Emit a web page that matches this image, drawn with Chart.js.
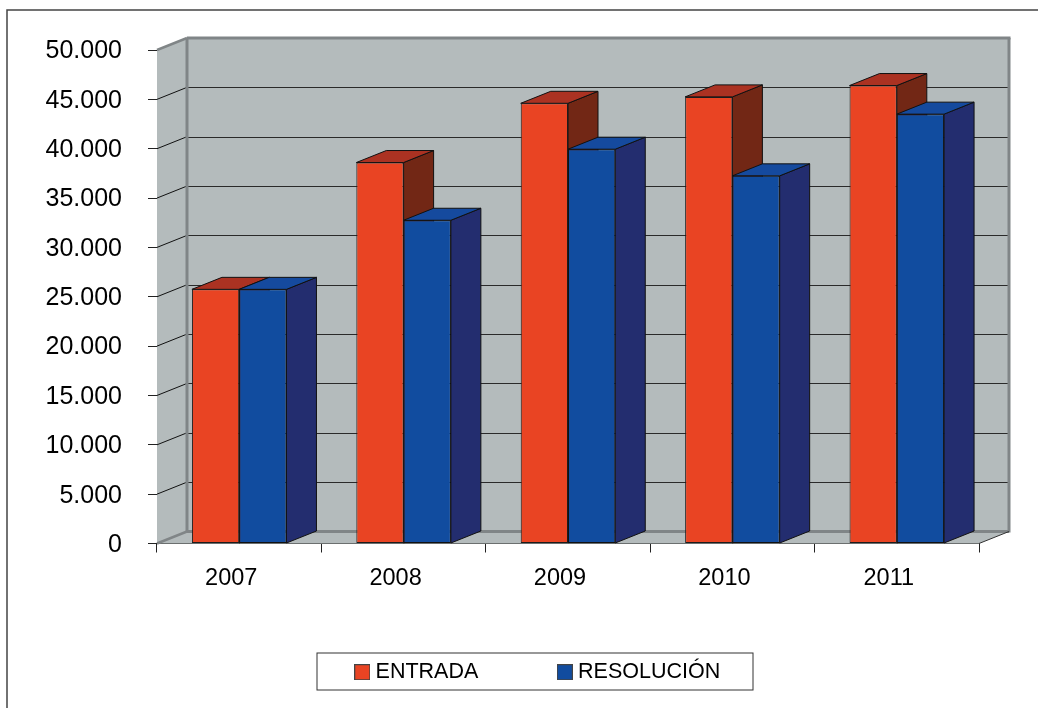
<!DOCTYPE html>
<html>
<head>
<meta charset="utf-8">
<style>
html,body{margin:0;padding:0;background:#fff;overflow:hidden}
#wrap{position:absolute;left:0;top:0;width:1038px;height:708px}
</style>
<script src="https://cdn.jsdelivr.net/npm/chart.js@4"></script>
</head>
<body>
<div id="wrap"><canvas id="c" width="1038" height="708"></canvas></div>
<script>
const categories = ['2007','2008','2009','2010','2011'];
const entrada = [25750, 38600, 44600, 45250, 46400];
const resolucion = [25750, 32750, 39950, 37250, 43500];
const seriesNames = ['ENTRADA','RESOLUCIÓN'];
const frontColors = ['#e94423','#114c9f'];
const topColors = ['#ab3222','#154a9e'];
const sideColors = ['#722715','#232d6f'];

const DX = 30, DY = -12;
const WALL = '#b4bbbc', EDGE = '#808587', LINE = '#2a2a2a';
const LEGEND_GAP = 84, LEGEND_FONT = 21.5;

function swatch(color){
  const s = document.createElement('canvas');
  s.width = 16; s.height = 16;
  const g = s.getContext('2d');
  g.fillStyle = color; g.fillRect(0.5,0.5,15,15);
  g.strokeStyle = '#444'; g.lineWidth = 1; g.strokeRect(0.5,0.5,15,15);
  return s;
}
function poly(ctx, pts, fill, stroke, lw){
  ctx.beginPath();
  pts.forEach((p,i)=> i ? ctx.lineTo(p[0],p[1]) : ctx.moveTo(p[0],p[1]));
  ctx.closePath();
  if (fill){ ctx.fillStyle = fill; ctx.fill(); }
  if (stroke){ ctx.strokeStyle = stroke; ctx.lineWidth = lw||1; ctx.stroke(); }
}
function seg(ctx, x1,y1,x2,y2, color, lw){
  ctx.beginPath(); ctx.moveTo(x1,y1); ctx.lineTo(x2,y2);
  ctx.strokeStyle = color; ctx.lineWidth = lw||1; ctx.stroke();
}

const scene3d = {
  id:'scene3d',
  afterLayout(chart){
    const l = chart.legend;
    const h = l.bottom - l.top;
    l.left = 359.8 - LEGEND_GAP;
    l.right = l.left + 1000;
    l.top = 661.5 - LEGEND_GAP;
    l.bottom = l.top + h;
  },
  beforeDraw(chart){
    const ctx = chart.ctx;
    ctx.save();
    ctx.strokeStyle = '#444'; ctx.lineWidth = 1.5;
    ctx.strokeRect(7,10,1200,1000);
    ctx.fillStyle = '#fff'; ctx.strokeStyle = '#333'; ctx.lineWidth = 1;
    ctx.fillRect(317,653,436,37);
    ctx.strokeRect(317,653,436,37);
    ctx.restore();
  },
  beforeDatasetsDraw(chart){
    const ctx = chart.ctx, a = chart.chartArea, y = chart.scales.y;
    const L=a.left,R=a.right,T=a.top,B=a.bottom;
    ctx.save();
    poly(ctx,[[L+DX,T+DY],[R+DX,T+DY],[R+DX,B+DY],[L+DX,B+DY]],WALL);
    poly(ctx,[[L,T],[L+DX,T+DY],[L+DX,B+DY],[L,B]],WALL);
    poly(ctx,[[L,B],[L+DX,B+DY],[R+DX,B+DY],[R,B]],WALL);
    y.ticks.forEach(t=>{
      const p = y.getPixelForValue(t.value);
      if (t.value>0 && t.value<y.max){
        seg(ctx,L,p,L+DX,p+DY,'#111',1);
        seg(ctx,L+DX,Math.round(p+DY)+0.5,R+DX,Math.round(p+DY)+0.5,LINE,1.2);
      }
    });
    seg(ctx,L+DX,T+DY,R+DX+1.5,T+DY,EDGE,3);
    seg(ctx,L+DX,T+DY,L+DX,B+DY,EDGE,3);
    seg(ctx,R+DX,T+DY,R+DX,B+DY+1,EDGE,3);
    seg(ctx,L+DX,B+DY,R+DX,B+DY,EDGE,3);
    seg(ctx,L,T,L+DX,T+DY,EDGE,2.5);
    seg(ctx,L,B,L+DX,B+DY,EDGE,2.5);
    seg(ctx,R,B,R+DX,B+DY,'#333',1);
    [0,1].forEach(d=>{
      chart.getDatasetMeta(d).data.forEach(bar=>{
        const half = bar.width/2, x0 = bar.x-half, x1 = bar.x+half, yt = bar.y, yb = bar.base;
        poly(ctx,[[x1,yt],[x1+DX,yt+DY],[x1+DX,yb+DY],[x1,yb]],sideColors[d],'#111',1);
        poly(ctx,[[x0,yt],[x0+DX,yt+DY],[x1+DX,yt+DY],[x1,yt]],topColors[d],'#111',1);
      });
    });
    ctx.restore();
  }
};

new Chart(document.getElementById('c'),{
  type:'bar',
  data:{
    labels:categories,
    datasets:[
      {label:seriesNames[0],data:entrada,backgroundColor:frontColors[0],borderColor:'#1c1c1c',borderWidth:1,borderSkipped:false},
      {label:seriesNames[1],data:resolucion,backgroundColor:frontColors[1],borderColor:'#111',borderWidth:1,borderSkipped:false}
    ]
  },
  plugins:[scene3d],
  options:{
    responsive:false,
    animation:false,
    events:[],
    barPercentage:1,
    categoryPercentage:0.575,
    layout:{padding:{top:50,right:59,left:0,bottom:-115.5}},
    plugins:{
      title:{display:false},
      tooltip:{enabled:false},
      legend:{
        position:'bottom',
        align:'start',
        labels:{
          color:'#000',
          font:{family:'"Liberation Sans"',size:LEGEND_FONT},
          padding:LEGEND_GAP,
          usePointStyle:true,
          pointStyleWidth:5,
          generateLabels(chart){
            return Chart.defaults.plugins.legend.labels.generateLabels(chart).map((it,i)=>{
              it.pointStyle = swatch(frontColors[i]);
              return it;
            });
          }
        }
      }
    },
    scales:{
      x:{
        afterFit(s){ s.height = 164.5; },
        grid:{drawOnChartArea:false,drawTicks:true,tickLength:9,color:'#222',offset:true},
        border:{display:true,color:'#222',width:1},
        ticks:{color:'#000',font:{family:'"Liberation Sans"',size:23.5},padding:12,labelOffset:-8,maxRotation:0}
      },
      y:{
        min:0,max:50000,
        afterFit(s){ s.width = 157; },
        grid:{drawOnChartArea:false,drawTicks:true,tickLength:9,color:'#222'},
        border:{display:true,color:'#111',width:1},
        ticks:{
          stepSize:5000,
          color:'#000',
          font:{family:'"Liberation Sans"',size:25},
          padding:26,
          labelOffset:1.5,
          callback(v){ return String(v).replace(/\B(?=(\d{3})+$)/g,'.'); }
        }
      }
    }
  }
});
</script>
</body>
</html>
